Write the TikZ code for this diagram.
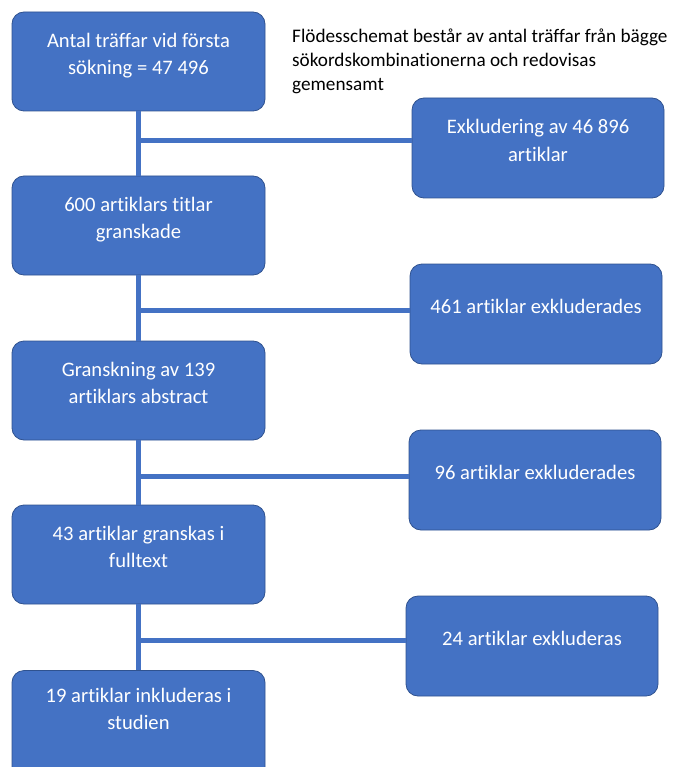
\documentclass[tikz,border=0pt]{standalone}
\usepackage{fontspec}
\setmainfont[Ligatures=NoCommon]{Carlito}
\definecolor{boxblue}{HTML}{4472C4}
\definecolor{boxline}{HTML}{2F528F}
\begin{document}
\begin{tikzpicture}
    [
    x=1pt,y=-1pt,
    stage/.style={rectangle,rounded corners=12pt,draw=boxline,fill=boxblue,line width=0.8pt,minimum width=253pt,minimum height=99pt,text=white,align=center,text depth=15pt,font=\fontsize{20.6}{27.5}\selectfont},
    outbox/.style={stage,minimum width=252pt,minimum height=100pt},
    link/.style={draw=boxblue,line width=5pt}
    ]
    \path[clip,use as bounding box] (0,0) rectangle (674,767);
    \node (s1) at (138.5,61.5) [stage] {Antal träffar vid första\\sökning = 47 496};
    \node (s2) at (138.5,225.5) [stage] {600 artiklars titlar\\granskade};
    \node (s3) at (138.5,390.5) [stage] {Granskning av 139\\artiklars abstract};
    \node (s4) at (138.5,554.5) [stage] {43 artiklar granskas i\\fulltext};
    \node (s5) at (138.5,730.5) [stage,minimum height=120pt,text depth=43pt] {19 artiklar inkluderas i\\studien};
    \node (e1) at (538,148) [outbox] {Exkludering av 46 896\\artiklar};
    \node (e2) at (536,314) [outbox] {461 artiklar exkluderades};
    \node (e3) at (535,480) [outbox] {96 artiklar exkluderades};
    \node (e4) at (532,646) [outbox] {24 artiklar exkluderas};
    \node (note) at (292,29) [anchor=north west,inner sep=0pt,align=left,font=\fontsize{19.2}{24}\selectfont] {Flödesschemat består av antal träffar från bägge\\sökordskombinationerna och redovisas\\gemensamt};
    \coordinate (j1) at (138.5,141);
    \coordinate (j2) at (138.5,310);
    \coordinate (j3) at (138.5,476);
    \coordinate (j4) at (138.5,640);
    \begin{scope}[on background layer/.try]
    \draw [link] (s1.south) to (s2.north);
    \draw [link] (s2.south) to (s3.north);
    \draw [link] (s3.south) to (s4.north);
    \draw [link] (s4.south) to (s5.north);
    \draw [link] (j1) to (j1 -| e1.west);
    \draw [link] (j2) to (j2 -| e2.west);
    \draw [link] (j3) to (j3 -| e3.west);
    \draw [link] (j4) to (j4 -| e4.west);
    \end{scope}
  \end{tikzpicture}
\end{document}
